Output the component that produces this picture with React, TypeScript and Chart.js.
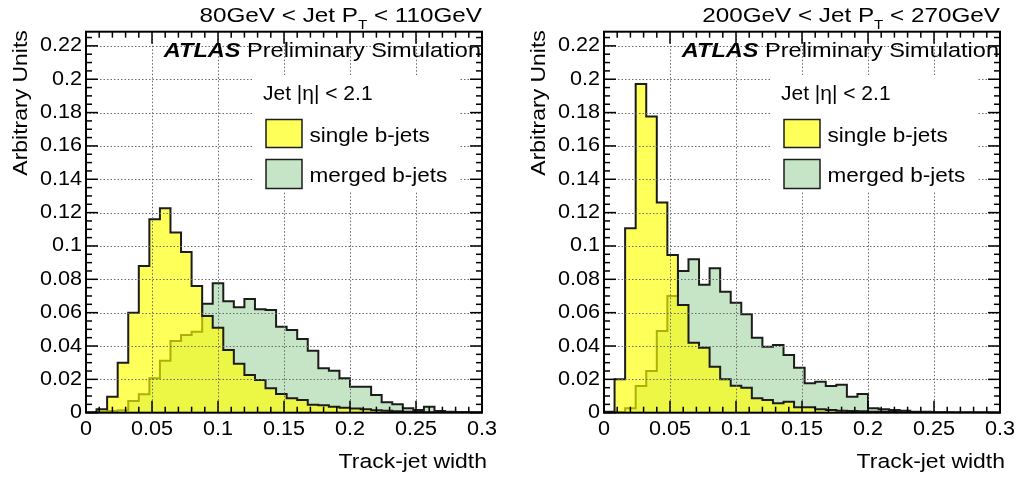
import { useEffect, useRef } from "react";
import { Chart, registerables } from "chart.js";

Chart.register(...registerables);

// Histogram binning: 0.008 wide bins starting at 0, axis shown from 0 to 0.3
const BIN_WIDTH = 0.008;
const X_MIN = 0;
const X_MAX = 0.3;
const Y_MAX = 0.2285;

// 80 GeV < pT < 110 GeV
const singleLowPt = [
  0.0003, 0.002, 0.0096, 0.03, 0.06, 0.088, 0.116, 0.1226, 0.108, 0.0964,
  0.076, 0.058, 0.051, 0.0376, 0.0294, 0.0226, 0.0196, 0.0146, 0.0112, 0.0086,
  0.0076, 0.0048, 0.0044, 0.0036, 0.003, 0.0025, 0.002, 0.0015, 0.0012, 0.0009,
  0.0006, 0.0004, 0.0003, 0.0002, 0.0002, 0.0001, 0.0001, 0.0001,
];
const mergedLowPt = [
  0, 0.0005, 0.001, 0.0015, 0.007, 0.011, 0.0206, 0.0312, 0.043, 0.0466,
  0.0486, 0.0654, 0.0776, 0.0668, 0.0632, 0.0682, 0.062, 0.0616, 0.0516, 0.0496,
  0.0442, 0.0372, 0.0266, 0.0252, 0.0206, 0.0156, 0.0156, 0.0106, 0.0062, 0.005,
  0.0026, 0.0016, 0.0036, 0.001, 0.0006, 0.0004, 0.0003, 0.0003,
];

// 200 GeV < pT < 270 GeV
const singleHighPt = [
  0.0006, 0.02, 0.1106, 0.1972, 0.1776, 0.126, 0.0946, 0.0646, 0.042, 0.039,
  0.0276, 0.02, 0.0162, 0.015, 0.0086, 0.0076, 0.0056, 0.0066, 0.0032, 0.0032,
  0.002, 0.0016, 0.0012, 0.001, 0.0008, 0.0006, 0.0005, 0.0004, 0.0003, 0.0003,
  0.0002, 0.0001, 0.0001, 0.0001, 0.0001, 0.0001, 0.0001, 0.0001,
];
const mergedHighPt = [
  0, 0.0004, 0.0026, 0.016, 0.025, 0.049, 0.07, 0.085, 0.092, 0.0768,
  0.0866, 0.0726, 0.066, 0.059, 0.045, 0.0396, 0.0406, 0.0346, 0.027, 0.0176,
  0.0186, 0.016, 0.0168, 0.0096, 0.0112, 0.0026, 0.002, 0.0016, 0.0012, 0.0006,
  0.0006, 0.0003, 0.0002, 0.0001, 0.0001, 0.0001, 0.0001, 0.0001,
];

const xTickLabels = [0, 0.05, 0.1, 0.15, 0.2, 0.25, 0.3];
const yTickLabels = [0, 0.02, 0.04, 0.06, 0.08, 0.1, 0.12, 0.14, 0.16, 0.18, 0.2, 0.22];
const X_MINOR_STEP = 0.01;
const Y_MINOR_STEP = 0.005;

const titleLowPt = ["80GeV < Jet P", "T", " < 110GeV"];
const titleHighPt = ["200GeV < Jet P", "T", " < 270GeV"];
const legendLabels = ["single b-jets", "merged b-jets"];
const selectionLabel = "Jet |\u03b7| < 2.1";
const experimentLabel = "ATLAS";
const statusLabel = " Preliminary Simulation";
const xTitle = "Track-jet width";
const yTitle = "Arbitrary Units";

const YELLOW = "rgba(255,255,0,0.65)";
const YELLOW_SOLID = "rgb(255,255,90)";
const GREEN = "rgb(198,228,198)";
const OUTLINE = "#1c1c1c";
const FONT = '"Liberation Sans", Arial, Helvetica, sans-serif';

const CANVAS_H = 477;

function toSteps(values: number[]) {
  const pts = [{ x: 0, y: 0 }];
  values.forEach((v, i) => pts.push({ x: i * BIN_WIDTH, y: v }));
  pts.push({ x: values.length * BIN_WIDTH, y: 0 });
  return pts;
}

function fmt(v: number) {
  return String(Number(v.toFixed(3)));
}

type TextOpts = {
  size: number;
  align?: CanvasTextAlign;
  weight?: string;
  style?: string;
  sx?: number;
};

function setFont(ctx: CanvasRenderingContext2D, o: TextOpts) {
  ctx.font = `${o.style || "normal"} ${o.weight || "normal"} ${o.size}px ${FONT}`;
}

function drawText(ctx: CanvasRenderingContext2D, s: string, x: number, y: number, o: TextOpts) {
  ctx.save();
  setFont(ctx, o);
  ctx.textAlign = o.align || "left";
  ctx.textBaseline = "alphabetic";
  ctx.fillStyle = "#000";
  ctx.translate(x, y);
  ctx.scale(o.sx || 1, 1);
  ctx.fillText(s, 0, 0);
  ctx.restore();
}

function textWidth(ctx: CanvasRenderingContext2D, s: string, o: TextOpts) {
  ctx.save();
  setFont(ctx, o);
  const w = ctx.measureText(s).width * (o.sx || 1);
  ctx.restore();
  return w;
}

function multiples(step: number, max: number) {
  const out: number[] = [];
  for (let i = 0; i * step <= max + 1e-9; i++) out.push(Number((i * step).toFixed(4)));
  return out;
}

function isMajor(v: number, majors: number[]) {
  return majors.some((m) => Math.abs(m - v) < 1e-7);
}

function panelDecorations(title: string[]) {
  return {
    id: "panelDecorations",
    afterDatasetsDraw(chart: any) {
      const { ctx, chartArea: a } = chart;
      const xs = chart.scales.x;
      const ys = chart.scales.y;
      const line = (x1: number, y1: number, x2: number, y2: number) => {
        ctx.beginPath();
        ctx.moveTo(x1, y1);
        ctx.lineTo(x2, y2);
        ctx.stroke();
      };

      ctx.save();

      // dotted grid at the labelled ticks
      ctx.strokeStyle = "#6a6a6a";
      ctx.lineWidth = 1;
      ctx.setLineDash([1.5, 2]);
      xTickLabels.forEach((t) => {
        if (t <= X_MIN || t >= X_MAX) return;
        const px = Math.round(xs.getPixelForValue(t)) + 0.5;
        line(px, a.top, px, a.bottom);
      });
      yTickLabels.forEach((t) => {
        if (t <= 0) return;
        const py = Math.round(ys.getPixelForValue(t)) + 0.5;
        line(a.left, py, a.right, py);
      });
      ctx.setLineDash([]);

      // legend
      ctx.fillStyle = "#fff";
      ctx.fillRect(252, 75, 208, 117);
      drawText(ctx, selectionLabel, 263, 99.5, { size: 20, sx: 1.05 });
      const boxes = [
        { y: 119.5, h: 28, fill: YELLOW_SOLID },
        { y: 159.5, h: 29, fill: GREEN },
      ];
      boxes.forEach((b, i) => {
        ctx.fillStyle = b.fill;
        ctx.fillRect(266, b.y, 36, b.h);
        ctx.strokeStyle = OUTLINE;
        ctx.lineWidth = 1.5;
        ctx.strokeRect(266, b.y, 36, b.h);
        drawText(ctx, legendLabels[i], 309.5, b.y + 22.5, { size: 20.5, sx: 1.1 });
      });

      // frame with inward ticks on all four sides
      ctx.strokeStyle = "#000";
      ctx.lineWidth = 1.5;
      multiples(X_MINOR_STEP, X_MAX).forEach((v) => {
        const L = isMajor(v, xTickLabels) ? 12 : 6;
        const px = xs.getPixelForValue(v);
        line(px, a.bottom, px, a.bottom - L);
        line(px, a.top, px, a.top + L);
      });
      multiples(Y_MINOR_STEP, Y_MAX).forEach((v) => {
        const L = isMajor(v, yTickLabels) ? 12 : 6;
        const py = ys.getPixelForValue(v);
        line(a.left, py, a.left + L, py);
        line(a.right, py, a.right - L, py);
      });
      ctx.lineWidth = 2;
      ctx.strokeRect(a.left, a.top, a.right - a.left, a.bottom - a.top);

      // tick labels
      yTickLabels.forEach((t) => {
        drawText(ctx, fmt(t), a.left - 4, ys.getPixelForValue(t) + 5.5, {
          size: 20,
          align: "right",
          sx: 1.08,
        });
      });
      xTickLabels.forEach((t) => {
        drawText(ctx, fmt(t), xs.getPixelForValue(t), a.bottom + 22.5, {
          size: 20,
          align: "center",
          sx: 1.08,
        });
      });

      // axis titles
      drawText(ctx, xTitle, a.right + 5, a.bottom + 55.5, { size: 20.5, align: "right", sx: 1.12 });
      ctx.save();
      ctx.translate(27, a.top - 1.5);
      ctx.rotate(-Math.PI / 2);
      drawText(ctx, yTitle, 0, 0, { size: 20.5, align: "right", sx: 1.12 });
      ctx.restore();

      // experiment label
      const expOpts = { size: 21, weight: "bold", style: "italic", sx: 1.12 };
      const statOpts = { size: 21, sx: 1.12 };
      const statW = textWidth(ctx, statusLabel, statOpts);
      drawText(ctx, statusLabel, a.right - 1 - statW, a.top + 25.5, statOpts);
      drawText(ctx, experimentLabel, a.right - 1 - statW, a.top + 25.5, { ...expOpts, align: "right" });

      // panel title with a subscripted T
      const main = { size: 21, sx: 1.155 };
      const sub = { size: 13.5, sx: 1.12 };
      const w0 = textWidth(ctx, title[0], main);
      const w1 = textWidth(ctx, title[1], sub);
      const w2 = textWidth(ctx, title[2], main);
      let tx = a.right - (w0 + w1 + w2);
      const base = 21.7;
      drawText(ctx, title[0], tx, base, main);
      tx += w0;
      drawText(ctx, title[1], tx, base + 7.5, sub);
      tx += w1;
      drawText(ctx, title[2], tx, base, main);

      ctx.restore();
    },
  };
}

function Panel({ single, merged, title, left, width }: {
  single: number[];
  merged: number[];
  title: string[];
  left: number;
  width: number;
}) {
  const ref = useRef<HTMLCanvasElement | null>(null);

  useEffect(() => {
    const canvas = ref.current;
    if (!canvas) return;
    const plotRight = 482;
    const plotTop = 31.7;
    const plotBottom = 412.7;
    const chart = new Chart(canvas, {
      type: "line",
      data: {
        datasets: [
          {
            label: legendLabels[0],
            data: toSteps(single),
            stepped: true,
            fill: "origin",
            backgroundColor: YELLOW,
            borderColor: OUTLINE,
            borderWidth: 2,
            pointRadius: 0,
            pointHoverRadius: 0,
          },
          {
            label: legendLabels[1],
            data: toSteps(merged),
            stepped: true,
            fill: "origin",
            backgroundColor: GREEN,
            borderColor: OUTLINE,
            borderWidth: 2,
            pointRadius: 0,
            pointHoverRadius: 0,
          },
        ],
      },
      options: {
        animation: false,
        responsive: false,
        devicePixelRatio: 1,
        events: [],
        layout: { padding: { top: plotTop, right: width - plotRight, left: 0, bottom: 0 } },
        plugins: { legend: { display: false }, tooltip: { enabled: false } },
        scales: {
          x: {
            type: "linear",
            min: X_MIN,
            max: X_MAX,
            grid: { display: false },
            border: { display: false },
            ticks: { display: false },
            afterFit: (s: any) => {
              s.height = CANVAS_H - plotBottom;
            },
          },
          y: {
            type: "linear",
            min: 0,
            max: Y_MAX,
            grid: { display: false },
            border: { display: false },
            ticks: { display: false },
            afterFit: (s: any) => {
              s.width = 86;
            },
          },
        },
      },
      plugins: [panelDecorations(title)],
    });
    return () => chart.destroy();
  }, [single, merged, title, width]);

  return (
    <canvas
      ref={ref}
      width={width}
      height={CANVAS_H}
      style={{ position: "absolute", left, top: 0, width, height: CANVAS_H }}
    />
  );
}

export default function App() {
  return (
    <div
      style={{
        position: "absolute",
        left: 0,
        top: 0,
        width: 1018,
        height: CANVAS_H,
        overflow: "hidden",
        background: "#fff",
      }}
    >
      <Panel single={singleLowPt} merged={mergedLowPt} title={titleLowPt} left={0} width={518} />
      <Panel single={singleHighPt} merged={mergedHighPt} title={titleHighPt} left={518} width={500} />
    </div>
  );
}
